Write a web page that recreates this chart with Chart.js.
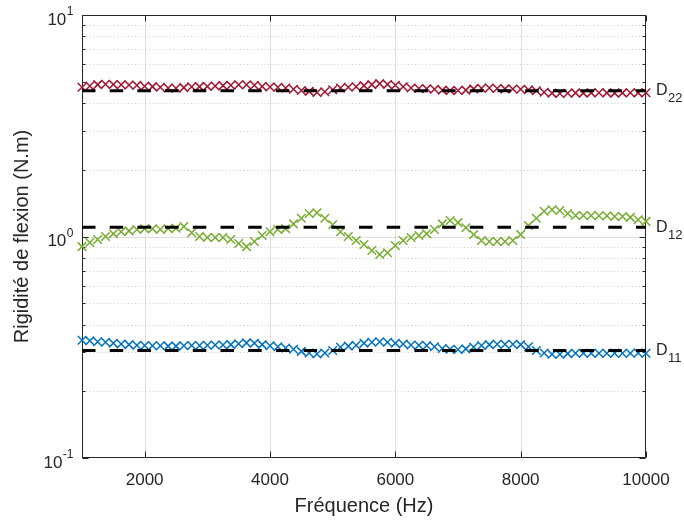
<!DOCTYPE html>
<html>
<head>
<meta charset="utf-8">
<script src="https://cdn.jsdelivr.net/npm/chart.js@4.4.1/dist/chart.umd.min.js"></script>
<style>
  html, body { margin: 0; padding: 0; background: #ffffff; }
  #c { display: block; }
</style>
</head>
<body>
<canvas id="c" width="684" height="520"></canvas>
<script>
// ---------- data ----------
const freq = [1000,1125,1250,1375,1500,1625,1750,1875,2000,2125,2250,2375,2500,2625,2750,2875,
  3000,3125,3250,3375,3500,3625,3750,3875,4000,4125,4250,4375,4500,4625,4750,4875,
  5000,5125,5250,5375,5500,5625,5750,5875,6000,6125,6250,6375,6500,6625,6750,6875,
  7000,7125,7250,7375,7500,7625,7750,7875,8000,8125,8250,8375,8500,8625,8750,8875,
  9000,9125,9250,9375,9500,9625,9750,9875,10000];

const d22 = [4.72,4.78,4.85,4.87,4.86,4.84,4.83,4.82,4.77,4.75,4.72,4.68,4.67,4.70,4.74,4.75,
  4.76,4.78,4.80,4.82,4.84,4.84,4.82,4.76,4.73,4.72,4.68,4.62,4.56,4.52,4.47,4.50,
  4.60,4.68,4.72,4.74,4.80,4.85,4.90,4.86,4.82,4.74,4.68,4.66,4.65,4.62,4.58,4.56,
  4.56,4.58,4.64,4.67,4.68,4.66,4.64,4.63,4.62,4.60,4.55,4.48,4.44,4.42,4.43,4.45,
  4.44,4.45,4.46,4.45,4.44,4.45,4.46,4.45,4.46];

const d12 = [0.90,0.94,0.97,1.00,1.03,1.05,1.06,1.075,1.085,1.085,1.075,1.085,1.09,1.11,1.04,1.00,
  0.99,0.99,0.99,0.97,0.93,0.90,0.95,1.01,1.05,1.075,1.085,1.14,1.21,1.27,1.28,1.21,
  1.13,1.05,1.00,0.96,0.92,0.865,0.83,0.845,0.91,0.96,0.99,1.01,1.03,1.075,1.14,1.18,
  1.155,1.095,1.02,0.96,0.95,0.95,0.95,0.96,1.02,1.12,1.21,1.30,1.32,1.31,1.27,1.245,
  1.245,1.245,1.24,1.24,1.23,1.23,1.22,1.19,1.17];

const d11 = [0.340,0.338,0.335,0.333,0.330,0.327,0.325,0.323,0.322,0.321,0.321,0.320,0.320,0.321,0.322,0.322,
  0.323,0.324,0.324,0.325,0.328,0.331,0.330,0.325,0.321,0.318,0.314,0.310,0.303,0.298,0.295,0.298,
  0.306,0.316,0.320,0.323,0.330,0.333,0.335,0.333,0.330,0.327,0.324,0.323,0.322,0.318,0.312,0.310,
  0.309,0.311,0.317,0.322,0.325,0.326,0.326,0.326,0.325,0.318,0.306,0.298,0.294,0.294,0.296,0.297,
  0.297,0.297,0.297,0.297,0.297,0.297,0.297,0.298,0.297];

// constant reference levels (dashed lines)
const refLevels = [4.55, 1.10, 0.306];
const refSubscripts = ['22', '12', '11'];

// tick labels
const xTickValues = [2000, 4000, 6000, 8000, 10000];
const yTickValues = [0.1, 1, 10];
const yTickExponents = ['-1', '0', '1'];
const xTitle = 'Fréquence (Hz)';
const yTitle = 'Rigidité de flexion (N.m)';

// ---------- styling ----------
const C_RED = '#A2142F', C_GREEN = '#77AC30', C_BLUE = '#0072BD';
const AX = '#262626';
const FONT = "'Liberation Sans', Arial, Helvetica, sans-serif";

function pts(vals) { return freq.map((f, i) => ({ x: f, y: vals[i] })); }
function refLine(v) { return [{ x: freq[0], y: v }, { x: freq[freq.length - 1], y: v }]; }

function markerSet(vals, color) {
  return {
    data: pts(vals), showLine: false, pointStyle: 'crossRot', pointRadius: 6,
    pointBorderWidth: 1.5, pointBorderColor: color, pointBackgroundColor: color,
    borderColor: color, clip: false
  };
}
function dashSet(v) {
  return {
    data: refLine(v), showLine: true, pointRadius: 0, borderColor: '#000000',
    borderWidth: 3, borderDash: [13.5, 14.2], fill: false
  };
}

function minorValues() {
  const out = [];
  [0.1, 1].forEach(d => { for (let k = 2; k <= 9; k++) out.push(k * d); });
  return out;
}

const matlabAxes = {
  id: 'matlabAxes',
  beforeDatasetsDraw(chart) {
    const { ctx, chartArea: a, scales: { x, y } } = chart;
    const L = a.left + 0.5, R = a.right - 0.5, T = a.top + 0.5, B = a.bottom - 0.5;
    ctx.save();
    ctx.lineWidth = 1;
    ctx.strokeStyle = 'rgba(38,38,38,0.15)';
    ctx.setLineDash([]);
    xTickValues.forEach(v => {
      const px = Math.round(x.getPixelForValue(v)) + 0.5;
      if (px > L + 1 && px < R - 1) { ctx.beginPath(); ctx.moveTo(px, T); ctx.lineTo(px, B); ctx.stroke(); }
    });
    yTickValues.forEach(v => {
      const py = Math.round(y.getPixelForValue(v)) + 0.5;
      if (py > T + 1 && py < B - 1) { ctx.beginPath(); ctx.moveTo(L, py); ctx.lineTo(R, py); ctx.stroke(); }
    });
    ctx.strokeStyle = 'rgba(38,38,38,0.22)';
    ctx.setLineDash([1, 2.5]);
    minorValues().forEach(v => {
      const py = Math.round(y.getPixelForValue(v)) + 0.5;
      ctx.beginPath(); ctx.moveTo(L, py); ctx.lineTo(R, py); ctx.stroke();
    });
    ctx.setLineDash([]);
    ctx.strokeStyle = AX;
    ctx.lineWidth = 1;
    ctx.strokeRect(L, T, R - L, B - T);
    const maj = 6, mnr = 3;
    xTickValues.forEach(v => {
      const px = Math.round(x.getPixelForValue(v)) + 0.5;
      ctx.beginPath(); ctx.moveTo(px, B); ctx.lineTo(px, B - maj);
      ctx.moveTo(px, T); ctx.lineTo(px, T + maj); ctx.stroke();
    });
    yTickValues.forEach(v => {
      const py = Math.round(y.getPixelForValue(v)) + 0.5;
      ctx.beginPath(); ctx.moveTo(L, py); ctx.lineTo(L + maj, py);
      ctx.moveTo(R, py); ctx.lineTo(R - maj, py); ctx.stroke();
    });
    minorValues().forEach(v => {
      const py = Math.round(y.getPixelForValue(v)) + 0.5;
      ctx.beginPath(); ctx.moveTo(L, py); ctx.lineTo(L + mnr, py);
      ctx.moveTo(R, py); ctx.lineTo(R - mnr, py); ctx.stroke();
    });
    ctx.restore();
  },
  afterDraw(chart) {
    const { ctx, chartArea: a, scales: { y } } = chart;
    ctx.save();
    ctx.fillStyle = AX;
    ctx.textBaseline = 'middle';
    const rightEdge = a.left - 8.5;
    yTickValues.forEach((v, i) => {
      const py = y.getPixelForValue(v);
      ctx.font = '12px ' + FONT;
      const ew = ctx.measureText(yTickExponents[i]).width;
      const ex = rightEdge - ew;
      ctx.textAlign = 'left';
      ctx.fillText(yTickExponents[i], ex, py - 3);
      ctx.font = '17px ' + FONT;
      ctx.textAlign = 'right';
      ctx.fillText('10', ex - 0.5, py + 5);
    });
    refLevels.forEach((v, i) => {
      const py = y.getPixelForValue(v);
      const x0 = a.right + 10;
      ctx.textAlign = 'left';
      ctx.font = '16px ' + FONT;
      ctx.fillText('D', x0, py);
      const dw = ctx.measureText('D').width;
      ctx.font = '13px ' + FONT;
      ctx.fillText(refSubscripts[i], x0 + dw + 0.5, py + 8);
    });
    ctx.restore();
  }
};

new Chart(document.getElementById('c'), {
  type: 'scatter',
  data: {
    datasets: [
      dashSet(refLevels[0]), dashSet(refLevels[1]), dashSet(refLevels[2]),
      markerSet(d22, C_RED), markerSet(d12, C_GREEN), markerSet(d11, C_BLUE)
    ]
  },
  options: {
    responsive: false,
    devicePixelRatio: 1,
    animation: false,
    events: [],
    layout: { padding: { left: 0, right: 38, top: 15, bottom: 0 } },
    plugins: { legend: { display: false }, tooltip: { enabled: false } },
    scales: {
      x: {
        type: 'linear', min: 1000, max: 10000,
        grid: { display: false, drawTicks: false },
        border: { display: false },
        afterBuildTicks(s) { s.ticks = xTickValues.map(v => ({ value: v })); },
        afterFit(s) { s.height = 62; },
        ticks: {
          color: AX, padding: 12, maxRotation: 0, autoSkip: false,
          font: { family: FONT, size: 17 },
          callback: v => String(v)
        },
        title: {
          display: true, text: xTitle, color: AX,
          font: { family: FONT, size: 20 }, padding: { top: 0, bottom: 2 }
        }
      },
      y: {
        type: 'logarithmic', min: 0.1, max: 10,
        grid: { display: false, drawTicks: false },
        border: { display: false },
        ticks: { display: false },
        afterFit(s) { s.width = 82; },
        title: {
          display: true, text: yTitle, color: AX,
          font: { family: FONT, size: 20 }, padding: { top: 10, bottom: 0 }
        }
      }
    }
  },
  plugins: [matlabAxes]
});
</script>
</body>
</html>
